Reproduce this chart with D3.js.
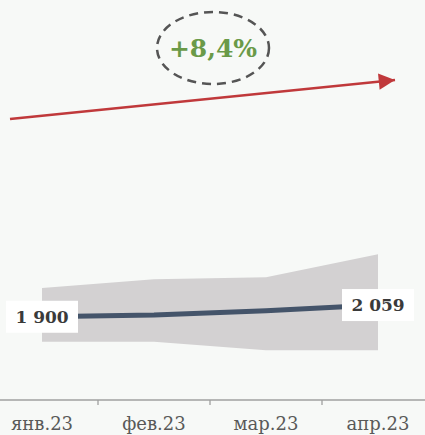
<!DOCTYPE html>
<html>
<head>
<meta charset="utf-8">
<script src="https://cdn.jsdelivr.net/npm/d3@7"></script>
<style>
  html, body { margin: 0; padding: 0; background: #f7f9f7; }
  svg { display: block; }
</style>
</head>
<body>
<div id="chart"></div>
<script>
// Monthly series with its range band
const months = ["янв.23", "фев.23", "мар.23", "апр.23"];
const values = [1900, 1923, 1982, 2059];
const upper = [2290, 2410, 2435, 2750];
const lower = [1560, 1560, 1445, 1445];

const W = 425, H = 435;
const axisY = 400;

const svg = d3.select("#chart").append("svg")
  .attr("width", W).attr("height", H);

svg.append("rect").attr("width", W).attr("height", H).attr("fill", "#f7f9f7");

const x = d3.scaleBand().domain(months).range([-14, 434]).padding(0);
const cx = m => x(m) + x.bandwidth() / 2;
const y = d3.scaleLinear().domain([770, 6200]).range([axisY, 0]);

const rows = months.map((m, i) => ({ m, v: values[i], hi: upper[i], lo: lower[i] }));

// Range band
const area = d3.area()
  .x(d => cx(d.m))
  .y0(d => y(d.lo))
  .y1(d => y(d.hi));
svg.append("path").datum(rows)
  .attr("d", area)
  .attr("fill", "#d3d1d2");

// Main line
const line = d3.line().x(d => cx(d.m)).y(d => y(d.v));
svg.append("path").datum(rows)
  .attr("d", line)
  .attr("fill", "none")
  .attr("stroke", "#44546a")
  .attr("stroke-width", 5);

// Value labels on first and last points
const fmt = v => d3.format(",")(v).replace(/,/g, " ");
[rows[0], rows[rows.length - 1]].forEach(d => {
  const g = svg.append("g").attr("transform", `translate(${cx(d.m)},${y(d.v)})`);
  g.append("rect").attr("x", -36).attr("y", -16).attr("width", 72).attr("height", 32)
    .attr("fill", "#ffffff");
  g.append("text").text(fmt(d.v))
    .attr("text-anchor", "middle").attr("dy", "0.36em")
    .attr("font-family", "DejaVu Serif").attr("font-weight", "bold")
    .attr("font-size", 17).attr("fill", "#3a3a3a");
});

// X axis: baseline and ticks between months
svg.append("line").attr("x1", 0).attr("x2", W).attr("y1", axisY).attr("y2", axisY)
  .attr("stroke", "#a0a0a0").attr("stroke-width", 1.3);
svg.selectAll(".mtick").data(months.slice(1)).join("line")
  .attr("class", "mtick")
  .attr("x1", d => x(d)).attr("x2", d => x(d))
  .attr("y1", axisY).attr("y2", axisY + 5)
  .attr("stroke", "#a0a0a0").attr("stroke-width", 1.3);
svg.selectAll(".mlabel").data(months).join("text")
  .attr("class", "mlabel")
  .attr("x", d => cx(d)).attr("y", 430)
  .attr("text-anchor", "middle")
  .attr("font-family", "DejaVu Serif").attr("font-size", 18)
  .attr("fill", "#595959")
  .text(d => d);

// Growth arrow
const defs = svg.append("defs");
defs.append("marker").attr("id", "head")
  .attr("viewBox", "0 0 10 10").attr("refX", 10).attr("refY", 5)
  .attr("markerWidth", 7).attr("markerHeight", 6.5).attr("markerUnits", "strokeWidth")
  .attr("orient", "auto")
  .append("path").attr("d", "M0,0 L10,5 L0,10 Z").attr("fill", "#c0393b");
svg.append("line")
  .attr("x1", 10).attr("y1", 119).attr("x2", 395).attr("y2", 80)
  .attr("stroke", "#c0393b").attr("stroke-width", 2.5)
  .attr("marker-end", "url(#head)");

// Growth badge
const growth = (values[values.length - 1] / values[0] - 1) * 100;
svg.append("ellipse").attr("cx", 213).attr("cy", 48).attr("rx", 56).attr("ry", 36)
  .attr("fill", "none").attr("stroke", "#555555").attr("stroke-width", 2.5)
  .attr("stroke-dasharray", "9,6");
svg.append("text")
  .attr("x", 213).attr("y", 48).attr("dy", "0.36em")
  .attr("text-anchor", "middle")
  .attr("font-family", "DejaVu Serif").attr("font-weight", "bold")
  .attr("font-size", 25).attr("fill", "#6a9a48")
  .text("+" + growth.toFixed(1).replace(".", ",") + "%");
</script>
</body>
</html>
